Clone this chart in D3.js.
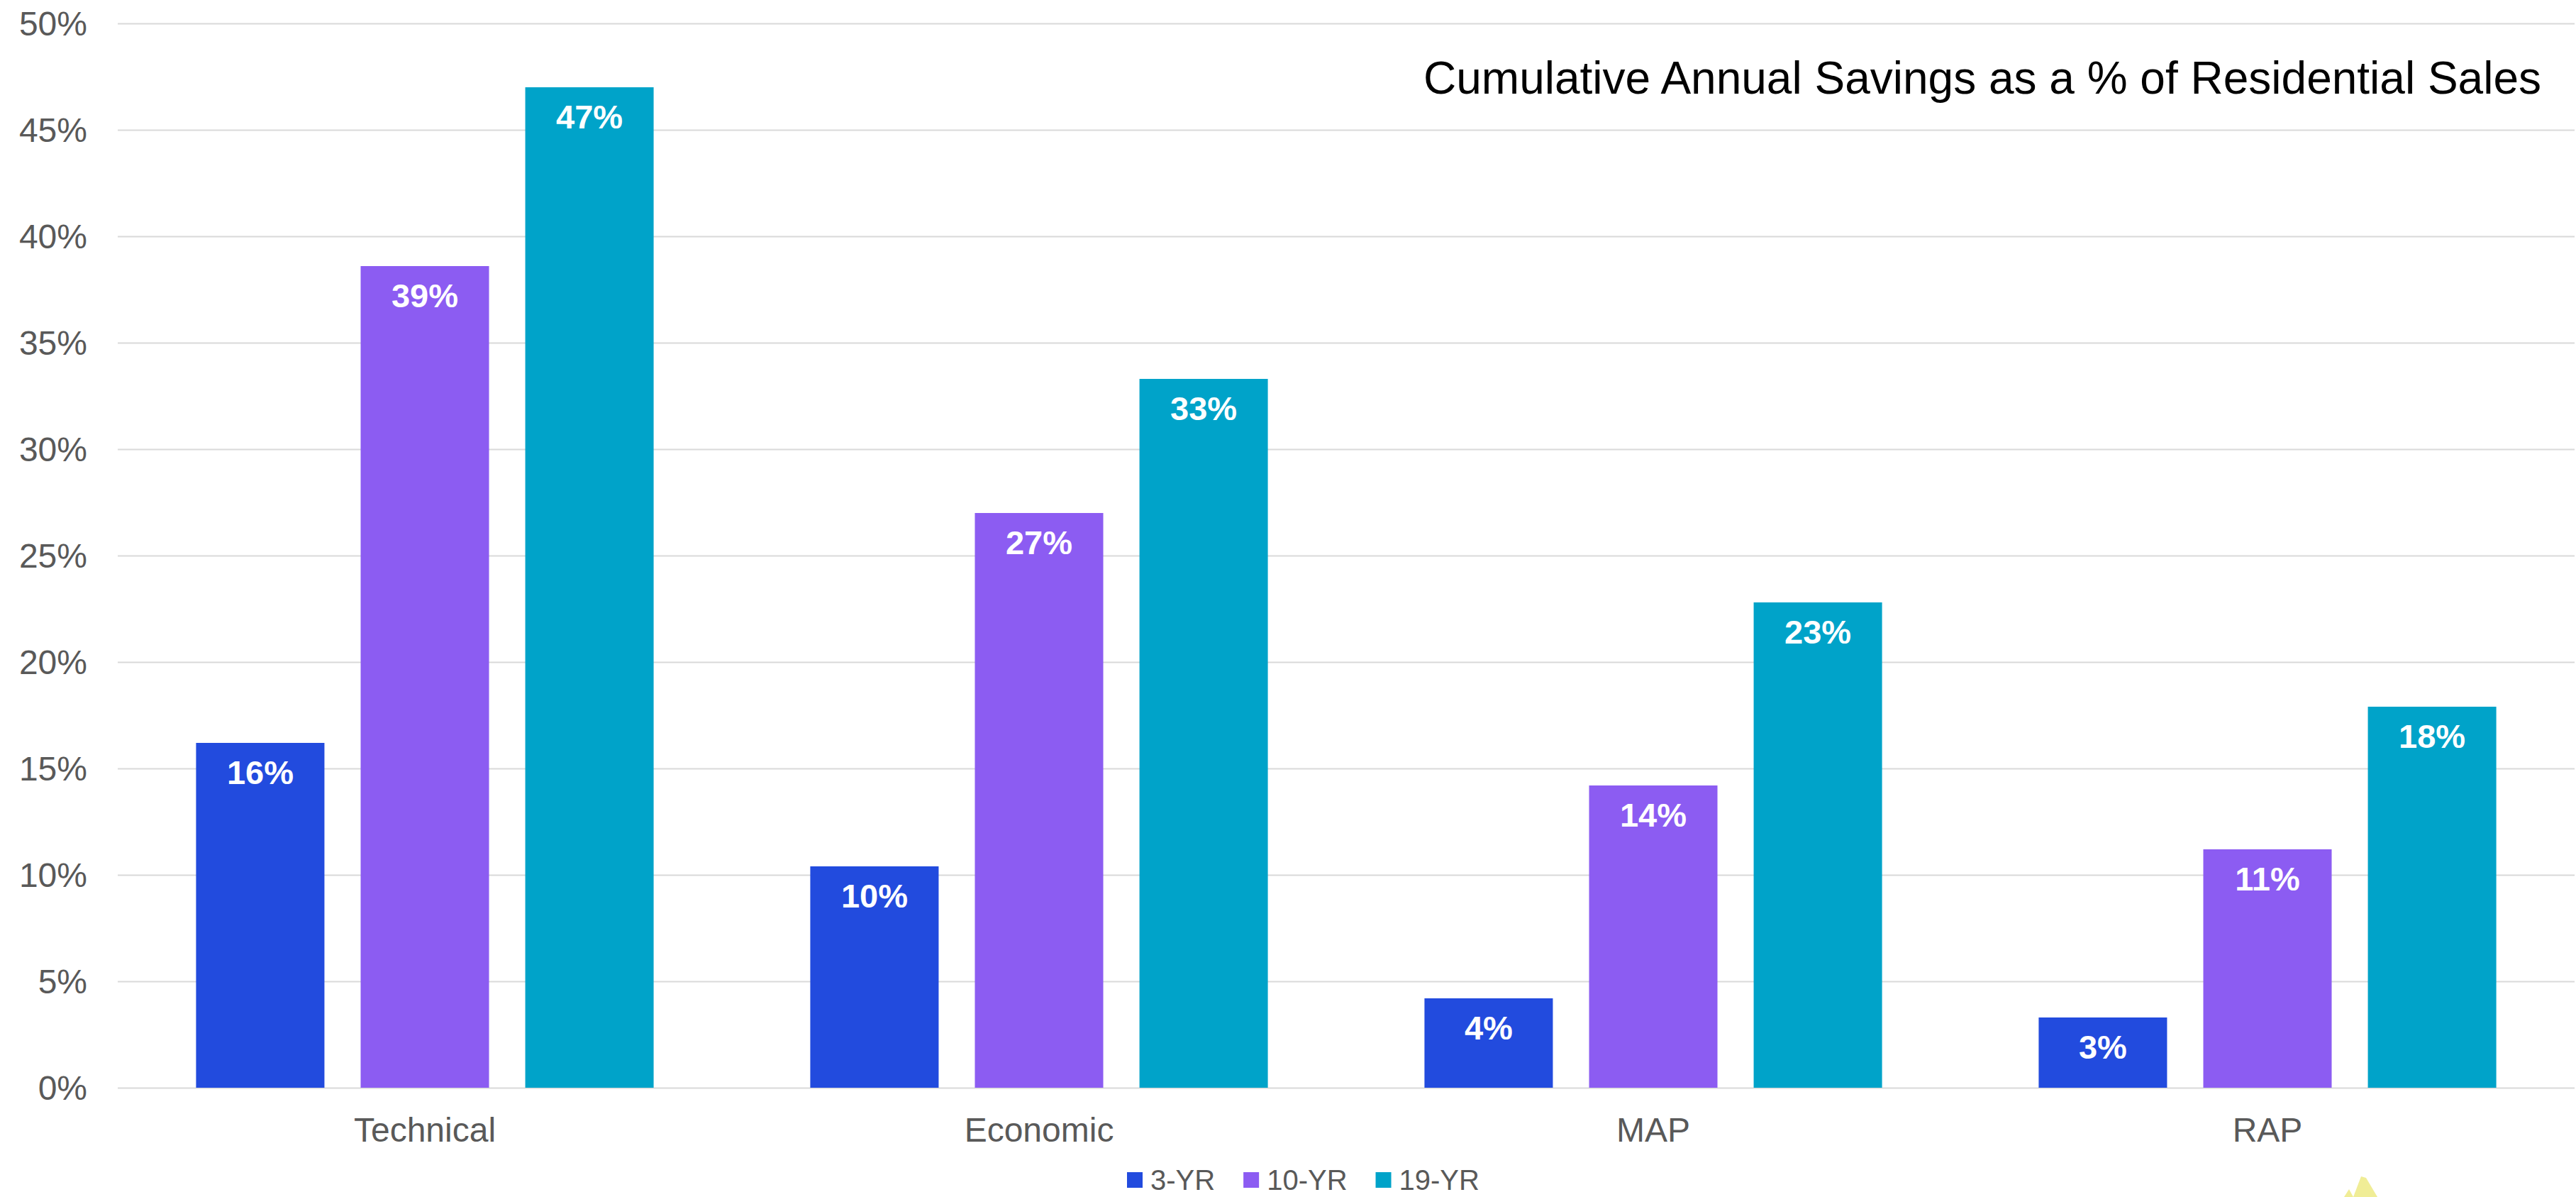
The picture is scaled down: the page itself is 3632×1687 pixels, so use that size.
<!DOCTYPE html>
<html>
<head>
<meta charset="utf-8">
<script src="https://cdn.jsdelivr.net/npm/d3@7"></script>
<style>
  html, body { margin: 0; padding: 0; background: #ffffff; }
  svg { display: block; }
  text { font-family: "Liberation Sans", Arial, Helvetica, sans-serif; }
</style>
</head>
<body>
<svg id="chart" width="3632" height="1687"></svg>
<script>
// Savings potential by scenario, as a share of residential sales
const categories = ["Technical", "Economic", "MAP", "RAP"];
const seriesNames = ["3-YR", "10-YR", "19-YR"];
const savings3yr  = [0.162, 0.104, 0.042, 0.033];
const savings10yr = [0.386, 0.270, 0.142, 0.112];
const savings19yr = [0.470, 0.333, 0.228, 0.179];
const yTicks = [0, 0.05, 0.10, 0.15, 0.20, 0.25, 0.30, 0.35, 0.40, 0.45, 0.50];
const seriesColors = ["#224BDE", "#8C5CF2", "#00A3C9"];
const chartTitle = "Cumulative Annual Savings as a % of Residential Sales";

const seriesValues = [savings3yr, savings10yr, savings19yr];
const rows = categories.map((c, i) => ({
  category: c,
  values: seriesNames.map((s, j) => ({ series: s, value: seriesValues[j][i] }))
}));

const svg = d3.select("#chart");
const plot = { left: 166, right: 3630, top: 33, bottom: 1533 };

const x0 = d3.scaleBand()
  .domain(categories)
  .range([plot.left, plot.right])
  .paddingInner(0.255)
  .paddingOuter(0.1275);

const x1 = d3.scaleBand()
  .domain(seriesNames)
  .range([0, x0.bandwidth()])
  .paddingInner(0.22)
  .paddingOuter(0);

const y = d3.scaleLinear().domain([0, 0.5]).range([plot.bottom, plot.top]);
const color = d3.scaleOrdinal().domain(seriesNames).range(seriesColors);
const pct = d3.format(".0%");

// Horizontal gridlines and y tick labels
const yAxis = d3.axisLeft(y)
  .tickValues(yTicks)
  .tickFormat(pct)
  .tickSize(-(plot.right - plot.left))
  .tickPadding(43);

const gy = svg.append("g")
  .attr("transform", `translate(${plot.left},0)`)
  .call(yAxis);
gy.select(".domain").remove();
gy.selectAll(".tick line").attr("stroke", "#d9d9d9").attr("stroke-width", 2);
gy.selectAll(".tick text")
  .attr("fill", "#595959")
  .style("font-size", "48px")
  .attr("dy", "0.35em");

// Category labels under each group
const xAxis = d3.axisBottom(x0).tickSize(0).tickPadding(0);
const gx = svg.append("g")
  .attr("transform", `translate(0,${plot.bottom})`)
  .call(xAxis);
gx.select(".domain").remove();
gx.selectAll(".tick text")
  .attr("fill", "#595959")
  .style("font-size", "48px")
  .attr("y", 76)
  .attr("dy", 0);

// Bars
const groups = svg.append("g").selectAll("g")
  .data(rows)
  .join("g")
  .attr("transform", d => `translate(${x0(d.category)},0)`);

groups.selectAll("rect")
  .data(d => d.values)
  .join("rect")
  .attr("x", d => x1(d.series))
  .attr("y", d => y(d.value))
  .attr("width", x1.bandwidth())
  .attr("height", d => y(0) - y(d.value))
  .attr("fill", d => color(d.series));

// Value labels inside the top of each bar
groups.selectAll("text.value")
  .data(d => d.values)
  .join("text")
  .attr("class", "value")
  .attr("x", d => x1(d.series) + x1.bandwidth() / 2)
  .attr("y", d => y(d.value) + 58)
  .attr("text-anchor", "middle")
  .attr("fill", "#ffffff")
  .style("font-size", "47px")
  .style("font-weight", "bold")
  .text(d => pct(d.value));

// Title inside the plot, top right
svg.append("text")
  .attr("x", 3583)
  .attr("y", 132)
  .attr("text-anchor", "end")
  .attr("fill", "#000000")
  .style("font-size", "64px")
  .text(chartTitle);

// Legend along the bottom
const legend = svg.append("g").attr("transform", "translate(1589,1652)");
let lx = 0;
seriesNames.forEach(s => {
  const item = legend.append("g").attr("transform", `translate(${lx},0)`);
  item.append("rect").attr("width", 22).attr("height", 22).attr("fill", color(s));
  const t = item.append("text")
    .attr("x", 33)
    .attr("y", 25)
    .attr("fill", "#595959")
    .style("font-size", "40px")
    .text(s);
  lx += 33 + t.node().getComputedTextLength() + 40;
});

// Corner of the logo mark at the bottom edge
const logo = svg.append("g").attr("opacity", 0.7);
logo.append("polygon")
  .attr("points", "3318,1687 3329,1658 3336,1660 3352,1687")
  .attr("fill", "#ebe66a");
logo.append("polygon")
  .attr("points", "3305,1687 3312,1676 3318,1687")
  .attr("fill", "#ebe66a");
</script>
</body>
</html>
